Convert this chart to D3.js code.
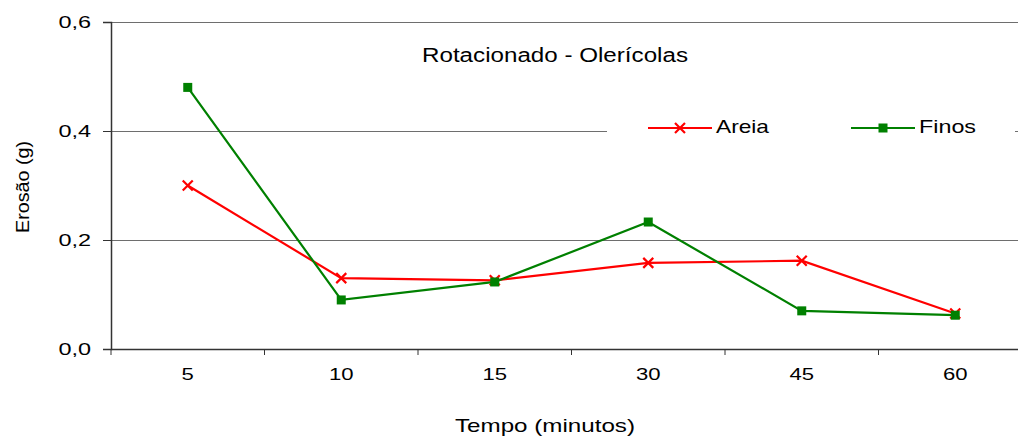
<!DOCTYPE html>
<html><head><meta charset="utf-8">
<script src="https://cdn.jsdelivr.net/npm/d3@7"></script>
<style>body{margin:0;background:#fff}svg{display:block;font-family:"Liberation Sans",Arial,sans-serif}</style>
</head><body><svg id="c" width="1018" height="438"></svg>
<script>
const categories = ["5","10","15","30","45","60"];
const areia = [0.30, 0.130, 0.126, 0.158, 0.162, 0.065];
const finos = [0.480, 0.090, 0.123, 0.233, 0.070, 0.062];
const yTicks = [0, 0.2, 0.4, 0.6];
const title = "Rotacionado - Olerícolas";
const seriesNames = ["Areia", "Finos"];

const svg = d3.select("#c");
const L = 111, T = 22, B = 349, R = 111 + 6 * 153.5;
const x = d3.scaleBand().domain(categories).range([L, R]);
const y = d3.scaleLinear().domain([0, 0.6]).range([B, T]);
const fmt = v => d3.format(".1f")(v).replace(".", ",");

// stretch text horizontally by a factor (reference font is wide)
function stretch(sel, f) {
  sel.each(function () {
    const w = this.getComputedTextLength();
    d3.select(this).attr("textLength", w * f).attr("lengthAdjust", "spacingAndGlyphs");
  });
}

// gridlines
svg.append("g").selectAll("line").data(yTicks.filter(d => d > 0)).join("line")
  .attr("x1", L).attr("x2", 1018).attr("y1", d => Math.round(y(d)) + 0.5).attr("y2", d => Math.round(y(d)) + 0.5)
  .attr("stroke", "#6e6e6e").attr("stroke-width", 1.2);

// y axis
const ya = svg.append("g").attr("transform", `translate(${L},0)`)
  .call(d3.axisLeft(y).tickValues(yTicks).tickFormat(fmt).tickSize(8).tickPadding(21));
ya.select(".domain").attr("stroke", "#333").attr("stroke-width", 1.5);
ya.selectAll(".tick line").attr("stroke", "#333");
ya.selectAll("text").attr("font-size", 17).attr("fill", "#000").attr("dy", "0.32em")
  .attr("font-family", "Liberation Sans, Arial, sans-serif");
stretch(ya.selectAll("text"), 1.38);
ya.selectAll("text").attr("x", -21 + 0).attr("dx", 0).attr("transform", "translate(0,0)");
ya.selectAll("text").attr("x", -20);

// x axis
const xa = svg.append("g").attr("transform", `translate(0,${B})`)
  .call(d3.axisBottom(x).tickSize(0).tickPadding(26));
xa.select(".domain").attr("stroke", "#333").attr("stroke-width", 1.5);
xa.selectAll("text").attr("font-size", 17).attr("fill", "#000").attr("dy", "0.3em")
  .attr("font-family", "Liberation Sans, Arial, sans-serif");
stretch(xa.selectAll("text"), 1.3);
xa.selectAll(".sep").data(categories).join("line").attr("class", "sep")
  .attr("x1", d => x(d)).attr("x2", d => x(d)).attr("y1", 0).attr("y2", 6)
  .attr("stroke", "#333");

// axis titles
svg.append("text").attr("x", 545).attr("y", 432).attr("text-anchor", "middle")
  .attr("font-size", 19).text("Tempo (minutos)").attr("textLength", 180).attr("lengthAdjust", "spacingAndGlyphs");
svg.append("text").attr("transform", "translate(29,187) rotate(-90)").attr("text-anchor", "middle")
  .attr("font-size", 18).text("Erosão (g)").attr("textLength", 92).attr("lengthAdjust", "spacingAndGlyphs");
svg.append("text").attr("x", 555).attr("y", 62).attr("text-anchor", "middle")
  .attr("font-size", 20).text(title).attr("textLength", 266).attr("lengthAdjust", "spacingAndGlyphs");

// legend box (white, covers gridline)
svg.append("rect").attr("x", 607).attr("y", 112).attr("width", 408).attr("height", 34).attr("fill", "#fff");

const cx = d => x(d) + x.bandwidth() / 2;
const line = d3.line().x((d, i) => cx(categories[i])).y(d => y(d));
const colors = ["#ff0000", "#008000"];

function xMark(g, px, py, col) {
  g.append("path").attr("d", `M${px-5},${py-5}L${px+5},${py+5}M${px-5},${py+5}L${px+5},${py-5}`)
    .attr("stroke", col).attr("stroke-width", 2.2).attr("fill", "none");
}
function sqMark(g, px, py, col) {
  g.append("rect").attr("x", px - 4.5).attr("y", py - 4.5).attr("width", 9).attr("height", 9).attr("fill", col);
}

[areia, finos].forEach((vals, k) => {
  const g = svg.append("g");
  g.append("path").datum(vals).attr("d", line).attr("fill", "none")
    .attr("stroke", colors[k]).attr("stroke-width", 2.2);
  vals.forEach((v, i) => (k === 0 ? xMark : sqMark)(g, cx(categories[i]), y(v), colors[k]));
});

// legend
const legX = [648, 851];
const legW = [53, 57];
seriesNames.forEach((n, k) => {
  const g = svg.append("g");
  const ly = 128;
  g.append("line").attr("x1", legX[k]).attr("x2", legX[k] + 64).attr("y1", ly).attr("y2", ly)
    .attr("stroke", colors[k]).attr("stroke-width", 2.2);
  (k === 0 ? xMark : sqMark)(g, legX[k] + 32, ly, colors[k]);
  g.append("text").attr("x", legX[k] + 68).attr("y", 133).attr("font-size", 19).text(n)
    .attr("textLength", legW[k]).attr("lengthAdjust", "spacingAndGlyphs");
});
</script></body></html>
